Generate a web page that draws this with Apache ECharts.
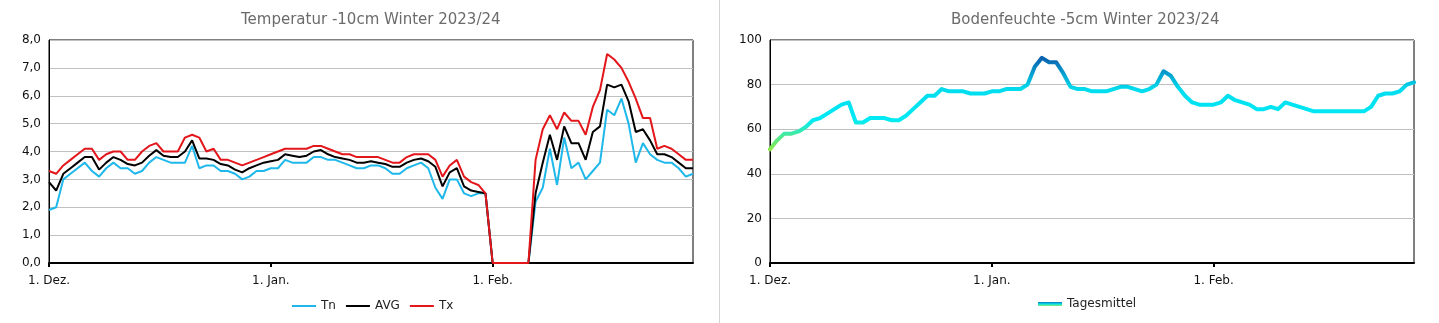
<!DOCTYPE html>
<html>
<head>
<meta charset="utf-8">
<script src="https://cdn.jsdelivr.net/npm/echarts@6/dist/echarts.min.js"></script>
<style>
  html, body { margin: 0; padding: 0; background: #fff; }
  #chart { width: 1439px; height: 323px; }
</style>
</head>
<body>
<div id="chart"></div>
<script>
// Winter 2023/24: 1 Dec 2023 .. 29 Feb 2024
const months = [['Dez.', 31], ['Jan.', 31], ['Feb.', 29]];

// Soil temperature at -10 cm (°C)
const tn = [
  1.9, 2.0, 3.0, 3.2, 3.4, 3.6, 3.3, 3.1, 3.4, 3.6, 3.4, 3.4, 3.2, 3.3, 3.6, 3.8,
  3.7, 3.6, 3.6, 3.6, 4.2, 3.4, 3.5, 3.5, 3.3, 3.3, 3.2, 3.0, 3.1, 3.3, 3.3,
  3.4, 3.4, 3.7, 3.6, 3.6, 3.6, 3.8, 3.8, 3.7, 3.7, 3.6, 3.5, 3.4, 3.4, 3.5, 3.5,
  3.4, 3.2, 3.2, 3.4, 3.5, 3.6, 3.4, 2.7, 2.3, 3.0, 3.0, 2.5, 2.4, 2.5, 2.5,
  0, 0, 0, 0, 0, 0, 2.2, 2.7, 4.1, 2.8, 4.5, 3.4, 3.6, 3.0, 3.3, 3.6, 5.5, 5.3,
  5.9, 5.0, 3.6, 4.3, 3.9, 3.7, 3.6, 3.6, 3.4, 3.1, 3.2
];
const avg = [
  2.9, 2.6, 3.2, 3.4, 3.6, 3.8, 3.8, 3.35, 3.6, 3.8, 3.7, 3.55, 3.5, 3.6, 3.85, 4.05,
  3.85, 3.8, 3.8, 4.0, 4.4, 3.75, 3.75, 3.7, 3.55, 3.5, 3.35, 3.25, 3.4, 3.5, 3.6,
  3.65, 3.7, 3.9, 3.85, 3.8, 3.85, 4.0, 4.05, 3.9, 3.8, 3.75, 3.7, 3.6, 3.6, 3.65, 3.6,
  3.55, 3.45, 3.45, 3.6, 3.7, 3.75, 3.65, 3.45, 2.75, 3.25, 3.4, 2.75, 2.6, 2.55, 2.5,
  0, 0, 0, 0, 0, 0, 2.5, 3.6, 4.6, 3.7, 4.9, 4.3, 4.3, 3.7, 4.7, 4.9, 6.4, 6.3,
  6.4, 5.8, 4.7, 4.8, 4.4, 3.9, 3.9, 3.8, 3.6, 3.4, 3.4
];
const tx = [
  3.3, 3.2, 3.5, 3.7, 3.9, 4.1, 4.1, 3.7, 3.9, 4.0, 4.0, 3.7, 3.7, 4.0, 4.2, 4.3,
  4.0, 4.0, 4.0, 4.5, 4.6, 4.5, 4.0, 4.1, 3.7, 3.7, 3.6, 3.5, 3.6, 3.7, 3.8,
  3.9, 4.0, 4.1, 4.1, 4.1, 4.1, 4.2, 4.2, 4.1, 4.0, 3.9, 3.9, 3.8, 3.8, 3.8, 3.8,
  3.7, 3.6, 3.6, 3.8, 3.9, 3.9, 3.9, 3.7, 3.1, 3.5, 3.7, 3.1, 2.9, 2.8, 2.5,
  0, 0, 0, 0, 0, 0, 3.7, 4.8, 5.3, 4.8, 5.4, 5.1, 5.1, 4.6, 5.6, 6.2, 7.5, 7.3,
  7.0, 6.5, 5.9, 5.2, 5.2, 4.1, 4.2, 4.1, 3.9, 3.7, 3.7
];

// Soil moisture at -5 cm, daily mean
const moisture = [
  51, 55, 58, 58, 59, 61, 64, 65, 67, 69, 71, 72, 63, 63, 65, 65,
  65, 64, 64, 66, 69, 72, 75, 75, 78, 77, 77, 77, 76, 76, 76,
  77, 77, 78, 78, 78, 80, 88, 92, 90, 90, 85, 79, 78, 78, 77, 77,
  77, 78, 79, 79, 78, 77, 78, 80, 86, 84, 79, 75, 72, 71, 71,
  71, 72, 75, 73, 72, 71, 69, 69, 70, 69, 72, 71, 70, 69, 68, 68,
  68, 68, 68, 68, 68, 68, 70, 75, 76, 76, 77, 80, 81
];

// One category per day, labelled "1. Mon." on the first of each month
const days = [];
const dayLabel = {};
months.forEach(([name, n]) => {
  for (let d = 1; d <= n; d++) {
    const key = name + ' ' + d;
    days.push(key);
    if (d === 1) dayLabel[key] = '1. ' + name;
  }
});

const FONT = 'DejaVu Sans';
const isMonthStart = (i, v) => dayLabel[v] !== undefined;

function xAxis(gridIndex) {
  return {
    type: 'category', gridIndex, data: days, boundaryGap: false,
    axisLine: { show: true, lineStyle: { color: '#000', width: 2 } },
    axisTick: { show: true, interval: isMonthStart, length: 4, lineStyle: { color: '#000', width: 2 } },
    axisLabel: { interval: isMonthStart, formatter: v => dayLabel[v] || '', color: '#111',
                 fontFamily: FONT, fontSize: 12, margin: 12 },
    splitLine: { show: false }
  };
}
function yAxis(gridIndex, max, interval, fmt) {
  return {
    type: 'value', gridIndex, min: 0, max, interval,
    axisLine: { show: true, lineStyle: { color: '#000', width: 1 } },
    axisTick: { show: false },
    axisLabel: { formatter: fmt, color: '#111', fontFamily: FONT, fontSize: 12, margin: 8 },
    splitLine: { show: true, lineStyle: { color: '#c0c0c0', width: 1 } }
  };
}

const moistureLegendColor = new echarts.graphic.LinearGradient(0, 0, 0, 1, [
  { offset: 0, color: '#0b6fb8' }, { offset: 0.5, color: '#00e5f2' }, { offset: 1, color: '#8fe86a' }
]);

const legendText = { fontFamily: FONT, fontSize: 12, color: '#222' };

const chart = echarts.init(document.getElementById('chart'), null, { renderer: 'canvas' });
chart.setOption({
  animation: false,
  backgroundColor: '#fff',
  textStyle: { fontFamily: FONT },
  title: [
    { text: 'Temperatur -10cm Winter 2023/24', left: 236, top: 8,
      textStyle: { fontFamily: FONT, fontSize: 15, fontWeight: 'normal', color: '#6b6b6b' } },
    { text: 'Bodenfeuchte -5cm Winter 2023/24', left: 946, top: 8,
      textStyle: { fontFamily: FONT, fontSize: 15, fontWeight: 'normal', color: '#6b6b6b' } }
  ],
  legend: [
    { data: [
        { name: 'Tn', itemStyle: { color: '#1fb8ea' } },
        { name: 'AVG', itemStyle: { color: '#000' } },
        { name: 'Tx', itemStyle: { color: '#e3161b' } }
      ],
      icon: 'rect', left: 287, top: 295, itemWidth: 24, itemHeight: 2, itemGap: 10,
      textStyle: legendText },
    { data: [{ name: 'Tagesmittel', itemStyle: { color: moistureLegendColor } }],
      icon: 'rect', left: 1033, top: 293, itemWidth: 24, itemHeight: 4,
      textStyle: legendText }
  ],
  grid: [
    { left: 49, right: 746, top: 40, bottom: 60, show: true, borderColor: '#000', borderWidth: 1, backgroundColor: 'transparent' },
    { left: 770, right: 25, top: 40, bottom: 60, show: true, borderColor: '#000', borderWidth: 1, backgroundColor: 'transparent' }
  ],
  xAxis: [xAxis(0), xAxis(1)],
  yAxis: [
    yAxis(0, 8, 1, v => v.toFixed(1).replace('.', ',')),
    yAxis(1, 100, 20, v => String(v))
  ],
  visualMap: {
    type: 'continuous', show: false, seriesIndex: 3, dimension: 1, min: 50, max: 92,
    inRange: { color: ['#96e83c', '#00eaf5', '#00dcee', '#0a5fae'] }
  },
  series: [
    { name: 'Tn', type: 'line', xAxisIndex: 0, yAxisIndex: 0, data: tn, symbol: 'none',
      color: '#1fb8ea', lineStyle: { width: 2, color: '#1fb8ea' } },
    { name: 'AVG', type: 'line', xAxisIndex: 0, yAxisIndex: 0, data: avg, symbol: 'none',
      color: '#000', lineStyle: { width: 2, color: '#000' } },
    { name: 'Tx', type: 'line', xAxisIndex: 0, yAxisIndex: 0, data: tx, symbol: 'none',
      color: '#e3161b', lineStyle: { width: 2, color: '#e3161b' } },
    { name: 'Tagesmittel', type: 'line', xAxisIndex: 1, yAxisIndex: 1, data: moisture, symbol: 'none',
      color: '#00c8e6', lineStyle: { width: 4, join: 'round', cap: 'round' } }
  ],
  graphic: [
    { type: 'line', shape: { x1: 719.5, y1: 0, x2: 719.5, y2: 323 }, style: { stroke: '#d4d4d4', lineWidth: 1 }, silent: true }
  ]
});
</script>
</body>
</html>
